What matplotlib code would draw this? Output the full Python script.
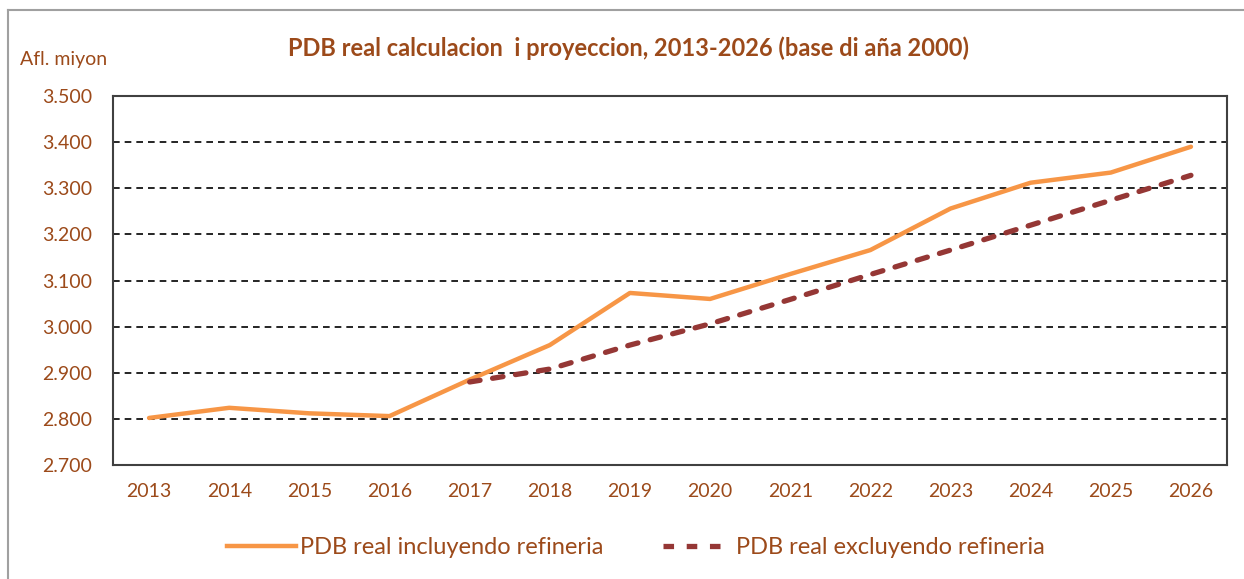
import matplotlib.pyplot as plt
from matplotlib.lines import Line2D

plt.rcParams['font.family'] = ['Lato', 'DejaVu Sans']

# data
years = [2013, 2014, 2015, 2016, 2017, 2018, 2019, 2020, 2021, 2022, 2023, 2024, 2025, 2026]
incl = [2802, 2824, 2812, 2806, 2885, 2960, 3073, 3060, 3114, 3166, 3256, 3312, 3334, 3390]
excl_years = [2017, 2018, 2019, 2020, 2021, 2022, 2023, 2024, 2025, 2026]
excl = [2880, 2908, 2960, 3006, 3059, 3113, 3166, 3220, 3274, 3328]
yticks = [2700, 2800, 2900, 3000, 3100, 3200, 3300, 3400, 3500]

txt = "#9C4A1A"
orange = "#F79646"
red = "#953735"

fig = plt.figure(figsize=(12.44, 5.79), dpi=100)
ax = fig.add_axes([113 / 1244, 1 - 465 / 579, (1227 - 113) / 1244, (465 - 96) / 579])

ax.plot(years, incl, color=orange, lw=3.2, solid_capstyle="round", zorder=3)
ax.plot(excl_years, excl, color=red, lw=3.8, dashes=(2.0, 2.4), dash_capstyle="round", zorder=3)

ax.set_xlim(2012.55, 2026.45)
ax.set_ylim(2700, 3500)
ax.set_yticks(yticks)
ax.set_yticklabels([f"{v/1000:.3f}" for v in yticks], color=txt, fontsize=14)
ax.set_xticks(years)
ax.set_xticklabels([str(y) for y in years], color=txt, fontsize=14)
ax.tick_params(axis="x", length=0, pad=13)
ax.tick_params(axis="y", length=0, pad=15)
for y in yticks[1:-1]:
    ax.axhline(y, color="black", lw=1.2, dashes=(4, 3), zorder=1)
for s in ax.spines.values():
    s.set_color("#404040")
    s.set_linewidth(1.5)

fig.text(20 / 1244, 1 - 60 / 579, "Afl. miyon", color=txt, fontsize=14, va="center")
fig.text(629 / 1244, 1 - 48 / 579, "PDB real calculacion  i proyeccion, 2013-2026 (base di aña 2000)",
         color=txt, fontsize=17, fontweight="bold", ha="center", va="center")

handles = [Line2D([], [], color=orange, lw=3.2),
           Line2D([], [], color=red, lw=3.8, dashes=(2.0, 2.4))]
fig.legend(handles, ["PDB real incluyendo refineria", "PDB real excluyendo refineria"],
           loc="center", bbox_to_anchor=(636 / 1244, 1 - 548 / 579), ncol=2, frameon=False,
           fontsize=17, labelcolor=txt, handlelength=2.9, handletextpad=0.2, columnspacing=2.5)

# outer chart border (left and top only visible)
fig.add_artist(Line2D([8 / 1244, 8 / 1244], [0, 1 - 10 / 579], color="#A0A0A0", lw=1.5))
fig.add_artist(Line2D([8 / 1244, 1], [1 - 10 / 579, 1 - 10 / 579], color="#A0A0A0", lw=1.5))

fig.savefig("out.png", dpi=100)
